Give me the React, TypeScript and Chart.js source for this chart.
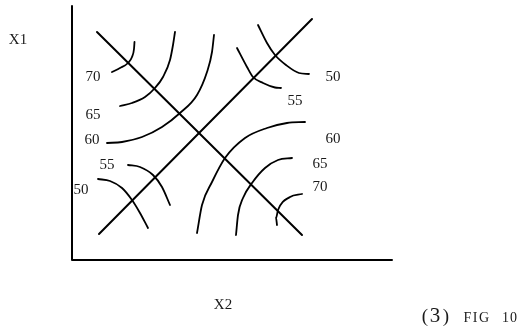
import React, { useEffect, useRef } from 'react';
import { Chart, registerables } from 'chart.js';

Chart.register(...registerables);

// Figure space (schematic units): X2 horizontal 0..320, X1 vertical 0..254
const X_MAX = 320;
const Y_MAX = 254;

const axisFrame = [
  { x: 0, y: 254 },
  { x: 0, y: 0 },
  { x: 320, y: 0 },
];

const descendingLine = [
  { x: 25, y: 228 },
  { x: 230, y: 25 },
];

const ascendingLine = [
  { x: 27, y: 26 },
  { x: 240, y: 241 },
];

// upper-left contours
const contourUL70 = [
  { x: 40, y: 188 },
  { x: 48, y: 192 },
  { x: 56, y: 197 },
  { x: 60, y: 203 },
  { x: 62, y: 211 },
  { x: 62.5, y: 218 },
];
const contourUL65 = [
  { x: 48, y: 154 },
  { x: 60, y: 157 },
  { x: 73, y: 163 },
  { x: 83, y: 172 },
  { x: 91, y: 183 },
  { x: 98, y: 200 },
  { x: 101, y: 215 },
  { x: 103, y: 228 },
];
const contourUL60 = [
  { x: 35, y: 117 },
  { x: 50, y: 118 },
  { x: 70, y: 123 },
  { x: 90, y: 133 },
  { x: 108, y: 147 },
  { x: 125, y: 165 },
  { x: 135, y: 188 },
  { x: 140, y: 208 },
  { x: 142, y: 225 },
];

// upper-right contours
const contourUR50 = [
  { x: 186, y: 235 },
  { x: 195, y: 217 },
  { x: 203, y: 205 },
  { x: 214, y: 195 },
  { x: 227, y: 187 },
  { x: 237, y: 186 },
];
const contourUR55 = [
  { x: 165, y: 212 },
  { x: 175, y: 193 },
  { x: 181, y: 183 },
  { x: 191, y: 177 },
  { x: 203, y: 172.5 },
  { x: 209, y: 172 },
];

// lower-right contours
const contourLR60 = [
  { x: 125, y: 27 },
  { x: 130, y: 55 },
  { x: 140, y: 78 },
  { x: 153, y: 102 },
  { x: 173, y: 122 },
  { x: 195, y: 132 },
  { x: 215, y: 137 },
  { x: 233, y: 138 },
];
const contourLR65 = [
  { x: 164, y: 25 },
  { x: 166, y: 45 },
  { x: 171, y: 62 },
  { x: 180, y: 77 },
  { x: 193, y: 92 },
  { x: 206, y: 100 },
  { x: 220, y: 102 },
];
const contourLR70 = [
  { x: 205, y: 35 },
  { x: 204, y: 42 },
  { x: 206, y: 50 },
  { x: 218, y: 63 },
  { x: 230, y: 66 },
];

// lower-left contours
const contourLL50 = [
  { x: 26, y: 81 },
  { x: 38, y: 79 },
  { x: 50, y: 72 },
  { x: 60, y: 60 },
  { x: 68, y: 47 },
  { x: 76, y: 32 },
];
const contourLL55 = [
  { x: 56, y: 95 },
  { x: 68, y: 93 },
  { x: 81, y: 85 },
  { x: 90, y: 73 },
  { x: 98, y: 55 },
];

// contour value labels
const contourLabels = [
  { text: '70', x: 21, y: 183 },
  { text: '65', x: 21, y: 145 },
  { text: '60', x: 20, y: 120 },
  { text: '55', x: 35, y: 95 },
  { text: '50', x: 9, y: 70 },
  { text: '50', x: 261, y: 183 },
  { text: '55', x: 223, y: 159 },
  { text: '60', x: 261, y: 121 },
  { text: '65', x: 248, y: 96 },
  { text: '70', x: 248, y: 73 },
];

const axisLabels = [
  { text: 'X1', x: -54, y: 220 },
  { text: 'X2', x: 151, y: -45 },
];

const captionParts = [
  { text: '(', x: 353, size: 19, spacing: 0 },
  { text: '3', x: 363, size: 21, spacing: 0 },
  { text: ')', x: 374, size: 19, spacing: 0 },
  { text: 'FIG', x: 405, size: 14, spacing: 1.5 },
  { text: '10', x: 438, size: 14, spacing: 1 },
];
const CAPTION_BASELINE_Y = -62;

const FONT = '"Liberation Serif", "DejaVu Serif", serif';

const textPlugin = {
  id: 'figureText',
  afterDatasetsDraw(chart: any) {
    const ctx = chart.ctx as CanvasRenderingContext2D;
    const xs = chart.scales.x;
    const ys = chart.scales.y;
    ctx.save();
    ctx.fillStyle = '#1a1a1a';
    ctx.textAlign = 'center';
    ctx.textBaseline = 'middle';
    ctx.font = `15px ${FONT}`;
    for (const l of contourLabels) {
      ctx.fillText(l.text, xs.getPixelForValue(l.x), ys.getPixelForValue(l.y));
    }
    for (const l of axisLabels) {
      ctx.fillText(l.text, xs.getPixelForValue(l.x), ys.getPixelForValue(l.y));
    }
    ctx.textBaseline = 'alphabetic';
    const by = ys.getPixelForValue(CAPTION_BASELINE_Y);
    for (const p of captionParts) {
      ctx.font = `${p.size}px ${FONT}`;
      (ctx as any).letterSpacing = `${p.spacing}px`;
      ctx.fillText(p.text, xs.getPixelForValue(p.x), by);
    }
    (ctx as any).letterSpacing = '0px';
    ctx.restore();
  },
};

function lineSet(data: { x: number; y: number }[], width: number, smooth: boolean) {
  return {
    data,
    showLine: true,
    borderColor: '#000',
    borderWidth: width,
    pointRadius: 0,
    pointHoverRadius: 0,
    tension: smooth ? 0.4 : 0,
    cubicInterpolationMode: smooth ? ('monotone' as const) : ('default' as const),
    fill: false,
    clip: false as any,
    borderCapStyle: 'round' as const,
    borderJoinStyle: 'round' as const,
  };
}

export default function App() {
  const ref = useRef<HTMLCanvasElement | null>(null);

  useEffect(() => {
    if (!ref.current) return;
    const curves = [
      contourUL70,
      contourUL65,
      contourUL60,
      contourUR50,
      contourUR55,
      contourLR60,
      contourLR65,
      contourLR70,
      contourLL50,
      contourLL55,
    ];
    const chart = new Chart(ref.current, {
      type: 'scatter',
      data: {
        datasets: [
          lineSet(axisFrame, 2, false),
          lineSet(descendingLine, 2, false),
          lineSet(ascendingLine, 2, false),
          ...curves.map((c) => lineSet(c, 1.8, true)),
        ],
      },
      options: {
        responsive: false,
        animation: false,
        events: [],
        layout: { padding: { left: 72, top: 6, right: 140, bottom: 73 } },
        plugins: {
          legend: { display: false },
          tooltip: { enabled: false },
        },
        scales: {
          x: { type: 'linear', min: 0, max: X_MAX, display: false },
          y: { type: 'linear', min: 0, max: Y_MAX, display: false },
        },
      },
      plugins: [textPlugin],
    });
    return () => chart.destroy();
  }, []);

  return (
    <div style={{ position: 'fixed', left: 0, top: 0, width: 532, height: 333, background: '#fff' }}>
      <canvas ref={ref} width={532} height={333} style={{ display: 'block' }} />
    </div>
  );
}
